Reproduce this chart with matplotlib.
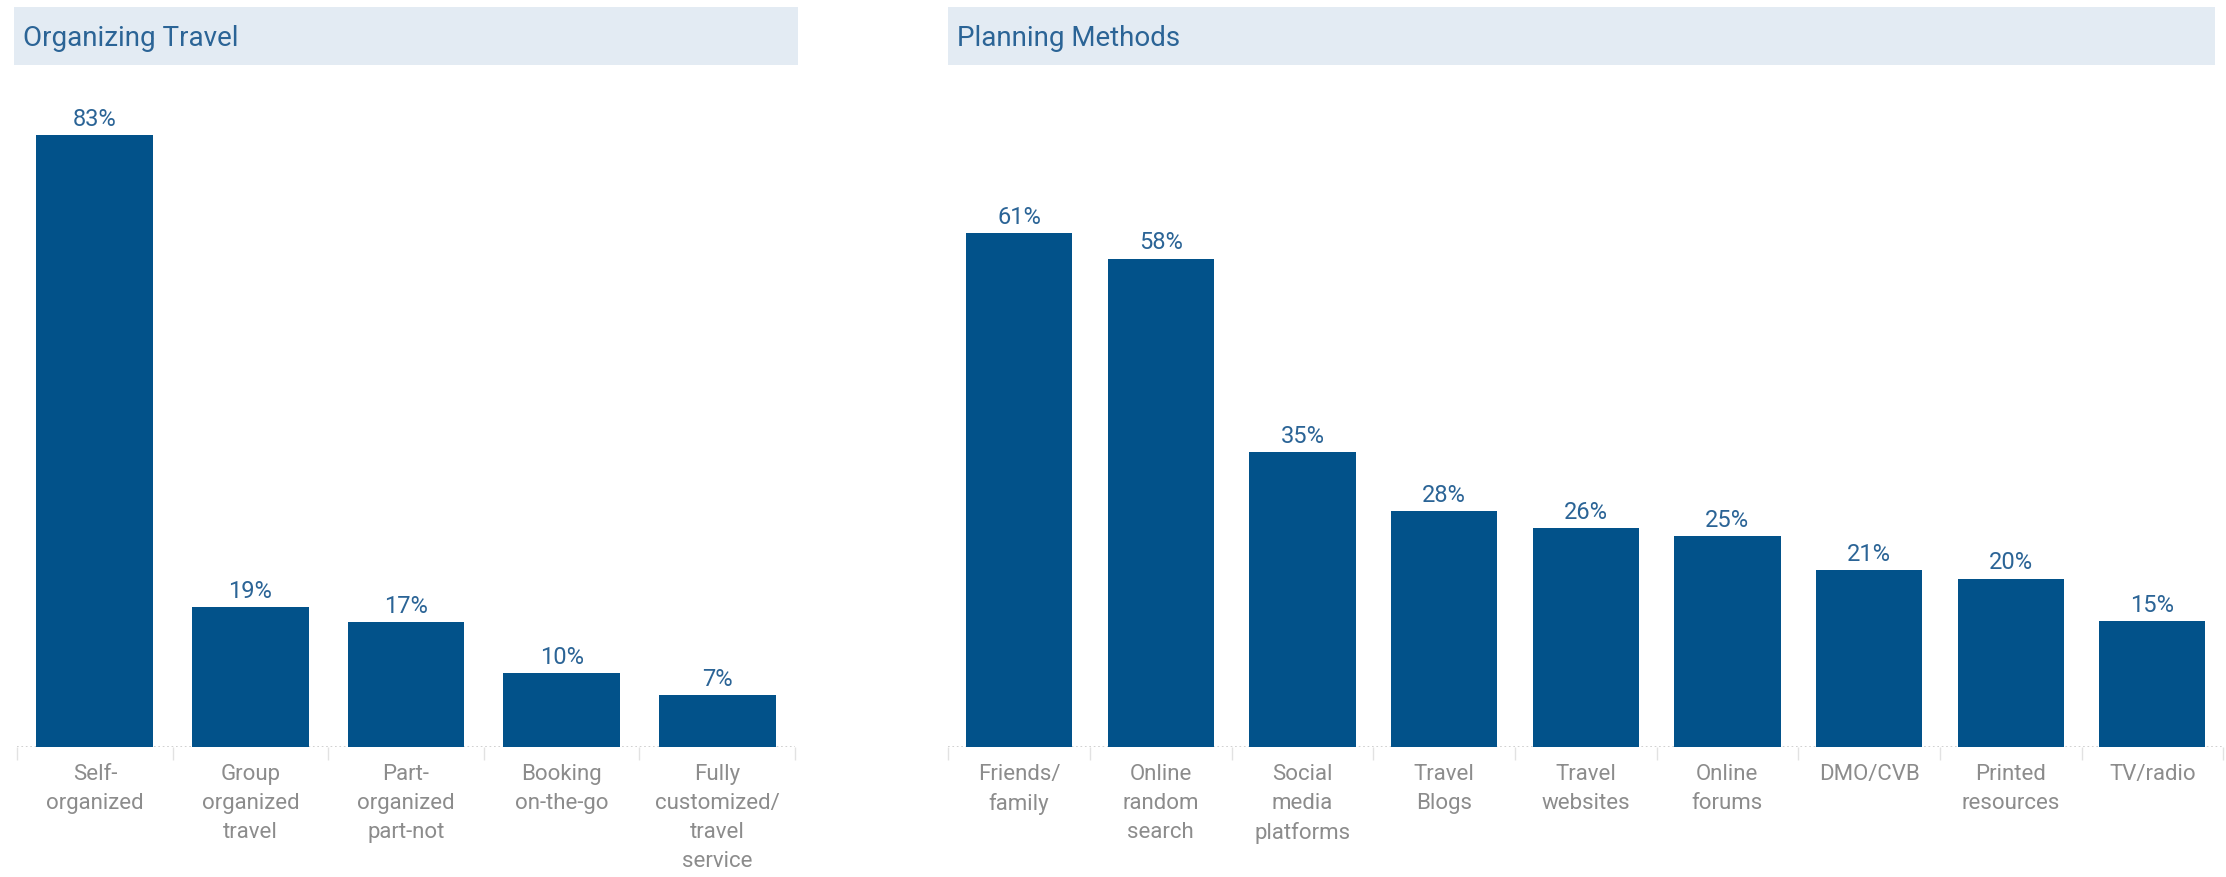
import numpy as np
import matplotlib.pyplot as plt
from matplotlib.patches import Rectangle

# data
org_labels = ['Self-\norganized', 'Group\norganized\ntravel', 'Part-\norganized\npart-not',
              'Booking\non-the-go', 'Fully\ncustomized/\ntravel\nservice']
org_values = [83, 19, 17, 10, 7]

plan_labels = ['Friends/\nfamily', 'Online\nrandom\nsearch', 'Social\nmedia\nplatforms',
               'Travel\nBlogs', 'Travel\nwebsites', 'Online\nforums', 'DMO/CVB',
               'Printed\nresources', 'TV/radio']
plan_values = [61, 58, 35, 28, 26, 25, 21, 20, 15]

bar_color = '#02528a'
label_blue = '#2b6496'
tick_gray = '#8c8c8c'
band_color = '#e3ebf3'

plt.rcParams['font.family'] = ['Roboto', 'DejaVu Sans']

fig = plt.figure(figsize=(22.26, 8.77), dpi=100)

H = 617.6
W = 1568.0

def fx(x):
    return x / W

def fy(y):
    return 1 - y / H


def title_band(x0, x1, text):
    fig.patches.append(Rectangle((fx(x0), fy(46)), fx(x1) - fx(x0), fy(5) - fy(46),
                                 transform=fig.transFigure, facecolor=band_color,
                                 edgecolor='none', zorder=0))
    fig.text(fx(x0) + 0.004, fy(27), text, color=label_blue,
             fontsize=20, va='center', ha='left')


def draw_panel(ax, labels, values, ytop):
    x = np.arange(len(values))
    bars = ax.bar(x, values, width=0.75, color=bar_color, zorder=2)
    ax.set_xlim(-0.5, len(values) - 0.5)
    ax.set_ylim(0, ytop)
    for s in ax.spines.values():
        s.set_visible(False)
    ax.axhline(0, color='#c8c8c8', linestyle=':', linewidth=1.2, zorder=1)
    ax.set_yticks([])
    ax.set_xticks(x)
    ax.set_xticklabels(labels, color=tick_gray, fontsize=16, linespacing=1.5)
    ax.set_xticks(np.arange(len(values) + 1) - 0.5, minor=True)
    ax.tick_params(axis='x', which='major', length=0, pad=12)
    ax.tick_params(axis='x', which='minor', length=9, color='#e2e2e2', width=1)
    for b, v in zip(bars, values):
        ax.text(b.get_x() + b.get_width() / 2, v + ytop * 0.006, f'{v}%',
                ha='center', va='bottom', color=label_blue, fontsize=17)


title_band(10, 562, 'Organizing Travel')
title_band(668, 1560, 'Planning Methods')

ax1 = fig.add_axes([fx(12), fy(526), fx(560) - fx(12), fy(46) - fy(526)])
draw_panel(ax1, org_labels, org_values, 480 / 5.19)

ax2 = fig.add_axes([fx(668), fy(526), fx(1566) - fx(668), fy(46) - fy(526)])
draw_panel(ax2, plan_labels, plan_values, 480 / 5.93)

fig.savefig('out.png', dpi=100, facecolor='white')
